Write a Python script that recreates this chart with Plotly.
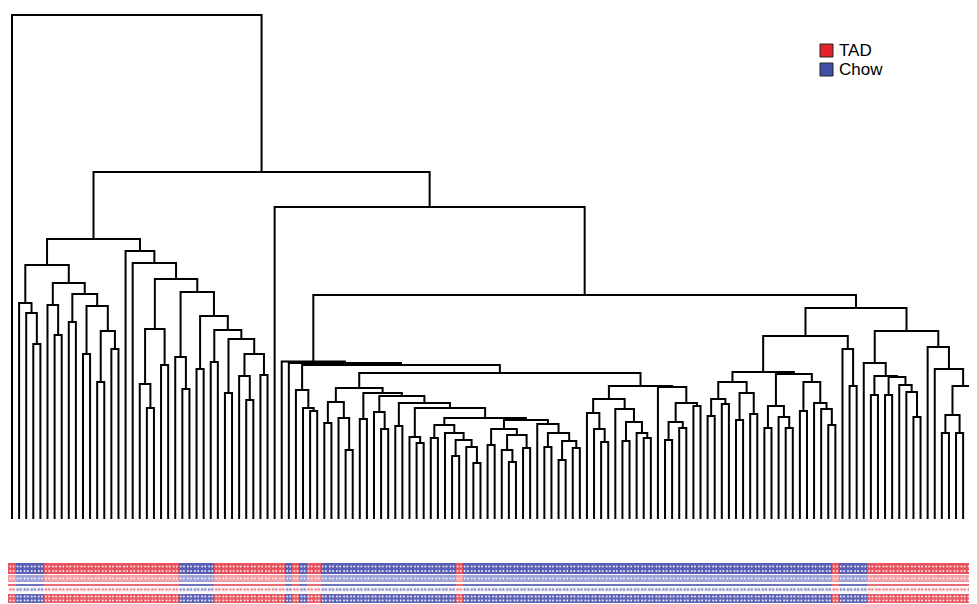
import plotly.graph_objects as go

# ---------------- data ----------------
n_leaves = 137

# class of each leaf, left to right (T = TAD, C = Chow)
leaf_class = (
    ["T"] + ["C"] * 4 + ["T"] * 19 + ["C"] * 5 + ["T"] * 10 +
    ["C", "T", "C", "T", "T"] +
    ["C"] * 19 + ["T"] + ["C"] * 52 + ["T"] + ["C"] * 4 + ["T"] * 16
)

# merge table: node name, left child, right child, merge height
# (children given as leaf index (int) or node name (str))
merge_node = [
    "R0", "N1", "N2", "N2a", "N2aa", "m1", "m2", "N2ab", "m3", "m5", "m4", "m6", "m7", "m8", "m9", "m10", "m11",
    "N2b", "p1", "p2", "p3", "p5", "p7", "p6", "p4", "p8", "p10", "p9", "p11", "p12", "p13", "p14", "p15", "p16",
    "p17", "p19", "p18",
    "N3", "N4", "A", "B", "C", "D", "F", "F2", "E", "G", "G1", "g1", "g2", "g3", "G2", "I", "J", "K", "k1",
    "M", "N", "O", "P", "p20", "Q", "R", "T", "U", "V", "W", "X", "X2", "S", "Y", "AA", "AB", "AC", "AC2", "AD",
    "Z", "Z2", "Z3", "Z4", "Z5", "Z6",
    "H", "H1", "H1a", "h1", "h2", "H1b", "h3", "h4", "h5", "h6", "H2", "h7", "h8", "h10", "h11", "h9",
    "Rt", "Ra", "Ra1", "r1", "r3", "r5", "r6", "r4", "r7", "r8", "r2", "r9", "r11", "r12", "r13", "r10", "r14",
    "r15", "r16", "r17", "Ra2", "r18",
    "Rb", "Rb1", "rb1", "rb2", "rb3", "rb4", "rb5", "rb6", "rb7", "Rb2", "rb8", "rb9", "rb10", "rb12", "rb13", "rb11",
]
merge_left = [
    0, "N2", "N2a", "N2aa", 1, 2, 3, "m3", 5, 6, "m6", 8, "m8", 10, "m10", 12, 14,
    16, 17, "p3", "p5", 18, 19, 21, "p8", 23, 24, "p11", 26, "p13", 28, "p15", 30, "p17",
    32, 33, 35,
    37, "A", 38, 39, "D", 40, 41, 42, "G", "G1", "g1", 44, 46, 47, "I", 49, "K", 51, 52,
    "N", 54, "P", 56, 57, "R", "T", 59, 61, "W", 62, 64, 65, "Y", "AA", 67, "AC", 69, 70, 72,
    74, "Z3", 75, "Z5", 77, 79,
    "H1", "H1a", 81, 82, 83, 85, "h4", 86, 88, 89, 91, "h8", "h10", 92, 94, 96,
    "Ra", "Ra1", "r1", "r3", "r5", 98, 100, "r7", 102, 104, "r9", "r11", 106, 108, 109, "r14", 111,
    113, 114, 115, 117, 118,
    "Rb1", 120, "rb2", 121, "rb4", 123, 125, 126, 127, 129, 130, "rb10", "rb12", 131, 133, 135,
]
merge_right = [
    "N1", "N3", "N2b", "N2ab", "m1", "m2", 4, "m4", "m5", 7, "m7", 9, "m9", 11, "m11", 13, 15,
    "p1", "p2", "p4", "p6", "p7", 20, 22, "p9", "p10", 25, "p12", 27, "p14", 29, "p16", 31, "p18",
    "p19", 34, 36,
    "N4", "Rt", "B", "C", "E", "F", "F2", 43, "H", "G2", "g2", 45, "g3", 48, "J", 50, "M", "k1", 53,
    "O", 55, "Q", "p20", 58, "S", "U", 60, "V", "X", 63, "X2", 66, "Z", "AB", 68, "AD", "AC2", 71, 73,
    "Z2", "Z4", 76, "Z6", 78, 80,
    "H2", "H1b", "h1", "h2", 84, "h3", "h5", 87, "h6", 90, "h7", "h9", "h11", 93, 95, 97,
    "Rb", "Ra2", "r2", "r4", "r6", 99, 101, "r8", 103, 105, "r10", "r12", 107, "r13", 110, "r15", 112,
    "r16", "r17", 116, "r18", 119,
    "Rb2", "rb1", "rb3", 122, "rb5", 124, "rb6", "rb7", 128, "rb8", "rb9", "rb11", "rb13", 132, 134, 136,
]
merge_height = [
    504, 347, 280, 254, 216, 206, 175, 236, 214, 184, 225, 197, 213, 165, 188, 137, 170,
    268, 256, 240, 190, 135, 111, 154, 227, 162, 130, 203, 150, 189, 157, 180, 126, 165,
    143, 119, 144,
    312, 224, 157.5, 156, 154, 129, 111, 108, 146, 131, 117, 96, 101, 69, 126, 100, 123, 107, 90,
    116, 93, 111, 82, 76, 101, 94, 81, 86, 79, 63, 72, 56, 99, 90, 74, 84, 69, 57, 71,
    95, 86, 72, 78, 59, 71,
    133, 120, 106, 90, 77, 110, 97, 78, 86, 81, 132, 116, 97, 79, 91, 113,
    211, 183, 147, 137, 120, 103, 115, 126, 99, 105, 145, 113, 91, 102, 91, 137, 108,
    116, 110, 94, 170, 133,
    188, 156, 143, 124, 142, 124, 134, 127, 102, 172, 150, 133, 104, 86, 86, 121,
]

legend_labels = ["TAD", "Chow"]
legend_colors = ["#e3232b", "#3f50a5"]

# ---------------- build dendrogram ----------------
assert len(merge_node) == len(merge_left) == len(merge_right) == len(merge_height) == n_leaves - 1
assert len(leaf_class) == n_leaves

table = {nm: (l, r, h) for nm, l, r, h in zip(merge_node, merge_left, merge_right, merge_height)}
pos_cache = {}


def pos(node):
    if isinstance(node, int):
        return float(node), 0.0
    if node in pos_cache:
        return pos_cache[node]
    l, r, h = table[node]
    xl, _ = pos(l)
    xr, _ = pos(r)
    pos_cache[node] = ((xl + xr) / 2.0, h)
    return pos_cache[node]


xs, ys = [], []
for nm in merge_node:
    l, r, h = table[nm]
    xl, hl = pos(l)
    xr, hr = pos(r)
    xs += [xl, xl, xr, xr, None]
    ys += [hl, h, h, hr, None]

fig = go.Figure()
fig.add_trace(go.Scatter(x=xs, y=ys, mode="lines", line=dict(color="black", width=2),
                         hoverinfo="skip", showlegend=False))

# ---------------- colour strip ----------------
row_specs = [  # base, thickness, TAD colour, Chow colour
    (-55, 11, "#e8525c", "#5a5fb4"),
    (-63, 7, "#f2a0a6", "#9fa2d6"),
    (-67, 2, "#ec6a73", "#6f73bd"),
    (-73, 5, "#fdf0f1", "#eeeff8"),
    (-84, 9, "#e95a64", "#6065b8"),
]
leaf_x = list(range(n_leaves))
for base, thick, ct, cc in row_specs:
    cols = [ct if c == "T" else cc for c in leaf_class]
    fig.add_trace(go.Bar(x=leaf_x, y=[thick] * n_leaves, base=[base] * n_leaves, width=1.0,
                         marker=dict(color=cols, line=dict(width=0)), hoverinfo="skip",
                         showlegend=False))

# texture dots
tex_x = [i + d for i in leaf_x for d in (-0.22, 0.22)]
tex_cls = [c for c in leaf_class for _ in (0, 1)]
for yrow, sz, white in [(-47.5, 2, True), (-52, 2, True), (-59.5, 2, True),
                        (-70.5, 2.5, False), (-77.5, 2, True), (-81.5, 2, True)]:
    if white:
        cols = ["rgba(255,255,255,0.85)"] * len(tex_x)
    else:
        cols = ["#ef8a92" if c == "T" else "#8c90cc" for c in tex_cls]
    fig.add_trace(go.Scatter(x=tex_x, y=[yrow] * len(tex_x), mode="markers",
                             marker=dict(size=sz, color=cols, symbol="circle", line=dict(width=0)),
                             hoverinfo="skip", showlegend=False))

# ---------------- legend (drawn as squares + labels) ----------------
W, Hh = 977.0, 604.0
shapes, annots = [], []
for k, (lab, col) in enumerate(zip(legend_labels, legend_colors)):
    top = 36 + 19 * k
    shapes.append(dict(type="rect", xref="paper", yref="paper",
                       x0=812 / W, x1=825 / W, y0=1 - (top + 13) / Hh, y1=1 - top / Hh,
                       fillcolor=col, line=dict(color="#222222", width=1)))
    annots.append(dict(xref="paper", yref="paper", x=829 / W, y=1 - (top + 6.5) / Hh,
                       xanchor="left", yanchor="middle", text=lab, showarrow=False,
                       font=dict(family="Arial, Liberation Sans, sans-serif", size=17, color="black")))

px_per_leaf = 7.098
fig.update_layout(
    width=977, height=604,
    margin=dict(l=0, r=0, t=0, b=0),
    plot_bgcolor="white", paper_bgcolor="white",
    barmode="overlay", bargap=0,
    xaxis=dict(range=[-4 / px_per_leaf, (977 - 4) / px_per_leaf], visible=False, fixedrange=True),
    yaxis=dict(range=[-93, 511], visible=False, fixedrange=True),
    shapes=shapes, annotations=annots,
    showlegend=False,
)
fig.write_html("out.html")
